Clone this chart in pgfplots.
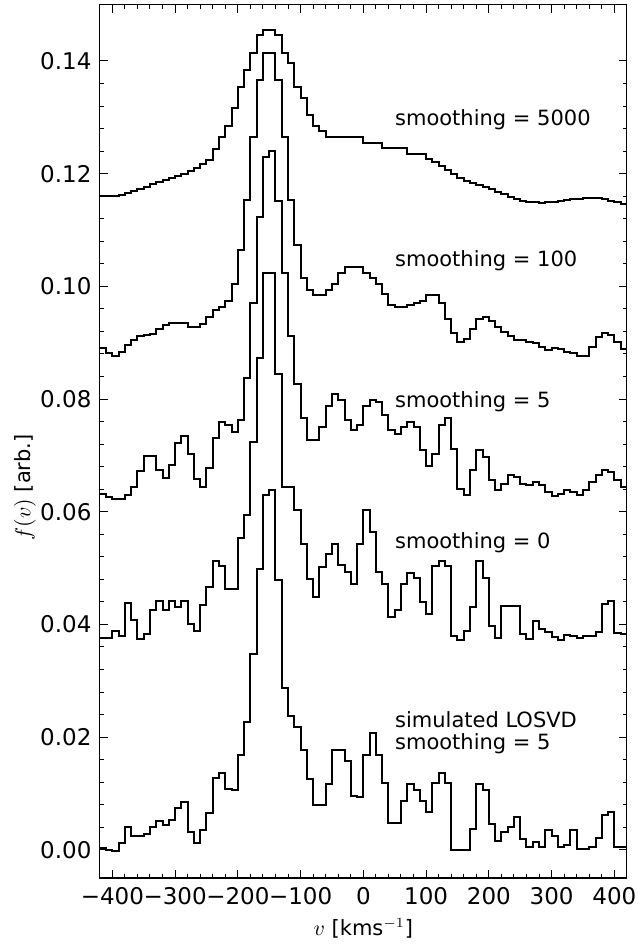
\documentclass[border=0pt]{standalone}
\usepackage{fontspec}
\setmainfont{DejaVu Sans}
\usepackage{pgfplots}
\usepackage{pgfplotstable}
\pgfplotsset{compat=1.18}

\pgfplotstableread{
v s5000 s100 s5 s0 sim
-420 0.11608 0.08914 0.06310 0.03764 0.00029
-410 0.11608 0.08808 0.06262 0.03764 0.00000
-400 0.11608 0.08766 0.06233 0.03883 -0.00012
-390 0.11620 0.08826 0.06233 0.03788 0.00118
-380 0.11661 0.08956 0.06292 0.04380 0.00402
-370 0.11697 0.09056 0.06440 0.04072 0.00248
-360 0.11732 0.09116 0.06724 0.03747 0.00254
-350 0.11768 0.09133 0.06990 0.03824 0.00272
-340 0.11809 0.09151 0.06990 0.04250 0.00402
-330 0.11845 0.09234 0.06748 0.04416 0.00520
-320 0.11880 0.09317 0.06600 0.04250 0.00443
-310 0.11916 0.09341 0.06825 0.04416 0.00532
-300 0.11957 0.09352 0.07227 0.04309 0.00745
-290 0.11999 0.09341 0.07352 0.04416 0.00846
-280 0.12046 0.09281 0.07020 0.04013 0.00313
-270 0.12105 0.09270 0.06588 0.03883 0.00118
-260 0.12170 0.09323 0.06440 0.04350 0.00355
-250 0.12247 0.09459 0.06783 0.04664 0.00651
-240 0.12437 0.09577 0.07316 0.05126 0.01266
-230 0.12650 0.09637 0.07594 0.05031 0.01367
-220 0.12845 0.09731 0.07535 0.04635 0.01071
-210 0.13159 0.10040 0.07417 0.04635 0.01065
-200 0.13544 0.10643 0.07636 0.05540 0.01675
-190 0.13845 0.11531 0.08382 0.05937 0.02267
-180 0.14147 0.12644 0.09696 0.07239 0.03480
-170 0.14455 0.13662 0.11223 0.08737 0.04990
-160 0.14544 0.14148 0.12300 0.10240 0.06292
-150 0.14544 0.14148 0.12407 0.10240 0.06381
-140 0.14455 0.13662 0.11519 0.08441 0.04783
-130 0.14147 0.12644 0.10240 0.06440 0.02876
-120 0.13958 0.11531 0.09116 0.06440 0.02367
-110 0.13544 0.10732 0.08275 0.06038 0.02178
-100 0.13348 0.10140 0.07671 0.05434 0.01763
-90 0.13046 0.09933 0.07281 0.04812 0.01260
-80 0.12845 0.09844 0.07281 0.04487 0.00804
-70 0.12750 0.09844 0.07506 0.05019 0.00787
-60 0.12650 0.09933 0.07873 0.05244 0.01171
-50 0.12650 0.10040 0.08098 0.05434 0.01763
-40 0.12650 0.10240 0.07991 0.05049 0.01763
-30 0.12650 0.10347 0.07636 0.04930 0.01568
-20 0.12650 0.10347 0.07446 0.04723 0.00964
-10 0.12650 0.10347 0.07535 0.05434 0.00935
0 0.12549 0.10240 0.07870 0.06038 0.01675
10 0.12549 0.10140 0.07991 0.05641 0.02071
20 0.12549 0.10040 0.07949 0.04930 0.01675
30 0.12449 0.09860 0.07713 0.04723 0.01183
40 0.12449 0.09666 0.07446 0.04131 0.00473
50 0.12449 0.09637 0.07375 0.04250 0.00473
60 0.12449 0.09637 0.07506 0.04723 0.00864
70 0.12348 0.09666 0.07594 0.04919 0.01171
80 0.12348 0.09707 0.07506 0.04824 0.01065
90 0.12348 0.09743 0.07091 0.04398 0.00864
100 0.12253 0.09844 0.06807 0.04179 0.00668
110 0.12200 0.09844 0.07020 0.05031 0.01183
120 0.12141 0.09696 0.07535 0.05126 0.01361
130 0.12064 0.09429 0.07665 0.05031 0.01183
140 0.11993 0.09163 0.07121 0.03788 0.00000
150 0.11928 0.09015 0.06410 0.03717 0.00000
160 0.11869 0.09074 0.06292 0.03877 0.00000
170 0.11827 0.09234 0.06736 0.04309 0.00372
180 0.11792 0.09412 0.07103 0.05126 0.01171
190 0.11756 0.09447 0.06973 0.04824 0.01065
200 0.11721 0.09388 0.06558 0.03966 0.00461
210 0.11679 0.09281 0.06381 0.03764 0.00165
220 0.11638 0.09193 0.06499 0.04321 0.00313
230 0.11590 0.09116 0.06647 0.04321 0.00402
240 0.11549 0.09056 0.06617 0.04321 0.00580
250 0.11519 0.09045 0.06499 0.03824 0.00195
260 0.11502 0.09015 0.06470 0.03746 0.00047
270 0.11490 0.08997 0.06529 0.04054 0.00147
280 0.11484 0.08926 0.06470 0.03924 0.00047
290 0.11490 0.08867 0.06351 0.03865 0.00343
300 0.11496 0.08897 0.06274 0.03776 0.00254
310 0.11508 0.08879 0.06321 0.03729 0.00059
320 0.11525 0.08837 0.06393 0.03818 0.00077
330 0.11543 0.08808 0.06351 0.03788 0.00343
340 0.11555 0.08766 0.06292 0.03758 0.00017
350 0.11567 0.08766 0.06381 0.03788 0.00017
360 0.11573 0.08926 0.06529 0.03794 0.00059
370 0.11567 0.09104 0.06647 0.03865 0.00207
380 0.11549 0.09175 0.06736 0.04368 0.00621
390 0.11519 0.09133 0.06706 0.04410 0.00680
400 0.11490 0.09015 0.06558 0.03847 0.00059
410 0.11460 0.08879 0.06440 0.03824 0.00047
420 0.11460 0.08879 0.06440 0.03824 0.00047
}\losvd

\begin{document}
\begin{tikzpicture}
\useasboundingbox (-49.9pt,-33.5pt) rectangle (268.6pt,439pt);
\begin{axis}[
  at={(0,0)}, anchor=south west,
  scale only axis,
  width=263.55pt, height=436.7pt,
  xmin=-420, xmax=420, ymin=-0.005, ymax=0.15,
  xtick={-400,-300,-200,-100,0,100,200,300,400},
  xticklabels={−400,−300,−200,−100,0,100,200,300,400},
  ytick={0,0.02,0.04,0.06,0.08,0.1,0.12,0.14},
  yticklabels={0.00,0.02,0.04,0.06,0.08,0.10,0.12,0.14},
  minor x tick num=4,
  minor y tick num=4,
  xtick pos=both, ytick pos=both,
  tick align=inside,
  major tick length=4pt,
  minor tick length=2pt,
  every tick/.style={black, line width=0.5pt},
  axis line style={line width=0.6pt},
  tick label style={font=\fontsize{11.5}{13}\selectfont},
  xticklabel style={inner sep=0pt, yshift=-4.5pt},
  yticklabel style={inner sep=0pt, xshift=-4pt},
  label style={font=\fontsize{10.5}{12}\selectfont},
  xlabel={$v$ [kms$^{-1}$]},
  ylabel={$f(v)$ [arb.]},
  xlabel style={at={(axis description cs:0.5,0)}, anchor=center, yshift=-25pt},
  ylabel style={at={(axis description cs:0,0.5)}, anchor=center, yshift=37.5pt, xshift=-23pt},
  clip=true,
]
\addplot[const plot, black, line width=1pt] table[x=v, y=s5000] {\losvd};
\addplot[const plot, black, line width=1pt] table[x=v, y=s100] {\losvd};
\addplot[const plot, black, line width=1pt] table[x=v, y=s5] {\losvd};
\addplot[const plot, black, line width=1pt] table[x=v, y=s0] {\losvd};
\addplot[const plot, black, line width=1pt] table[x=v, y=sim] {\losvd};

\node[anchor=west, inner sep=0pt, font=\fontsize{10.5}{12}\selectfont] at (axis cs:50,0.1295) {smoothing = 5000};
\node[anchor=west, inner sep=0pt, font=\fontsize{10.5}{12}\selectfont] at (axis cs:50,0.1046) {smoothing = 100};
\node[anchor=west, inner sep=0pt, font=\fontsize{10.5}{12}\selectfont] at (axis cs:50,0.0795) {smoothing = 5};
\node[anchor=west, inner sep=0pt, font=\fontsize{10.5}{12}\selectfont] at (axis cs:50,0.0545) {smoothing = 0};
\node[anchor=west, inner sep=0pt, font=\fontsize{10.5}{12}\selectfont] at (axis cs:50,0.0231) {simulated LOSVD};
\node[anchor=west, inner sep=0pt, font=\fontsize{10.5}{12}\selectfont] at (axis cs:50,0.0189) {smoothing = 5};
\end{axis}
\end{tikzpicture}
\end{document}
